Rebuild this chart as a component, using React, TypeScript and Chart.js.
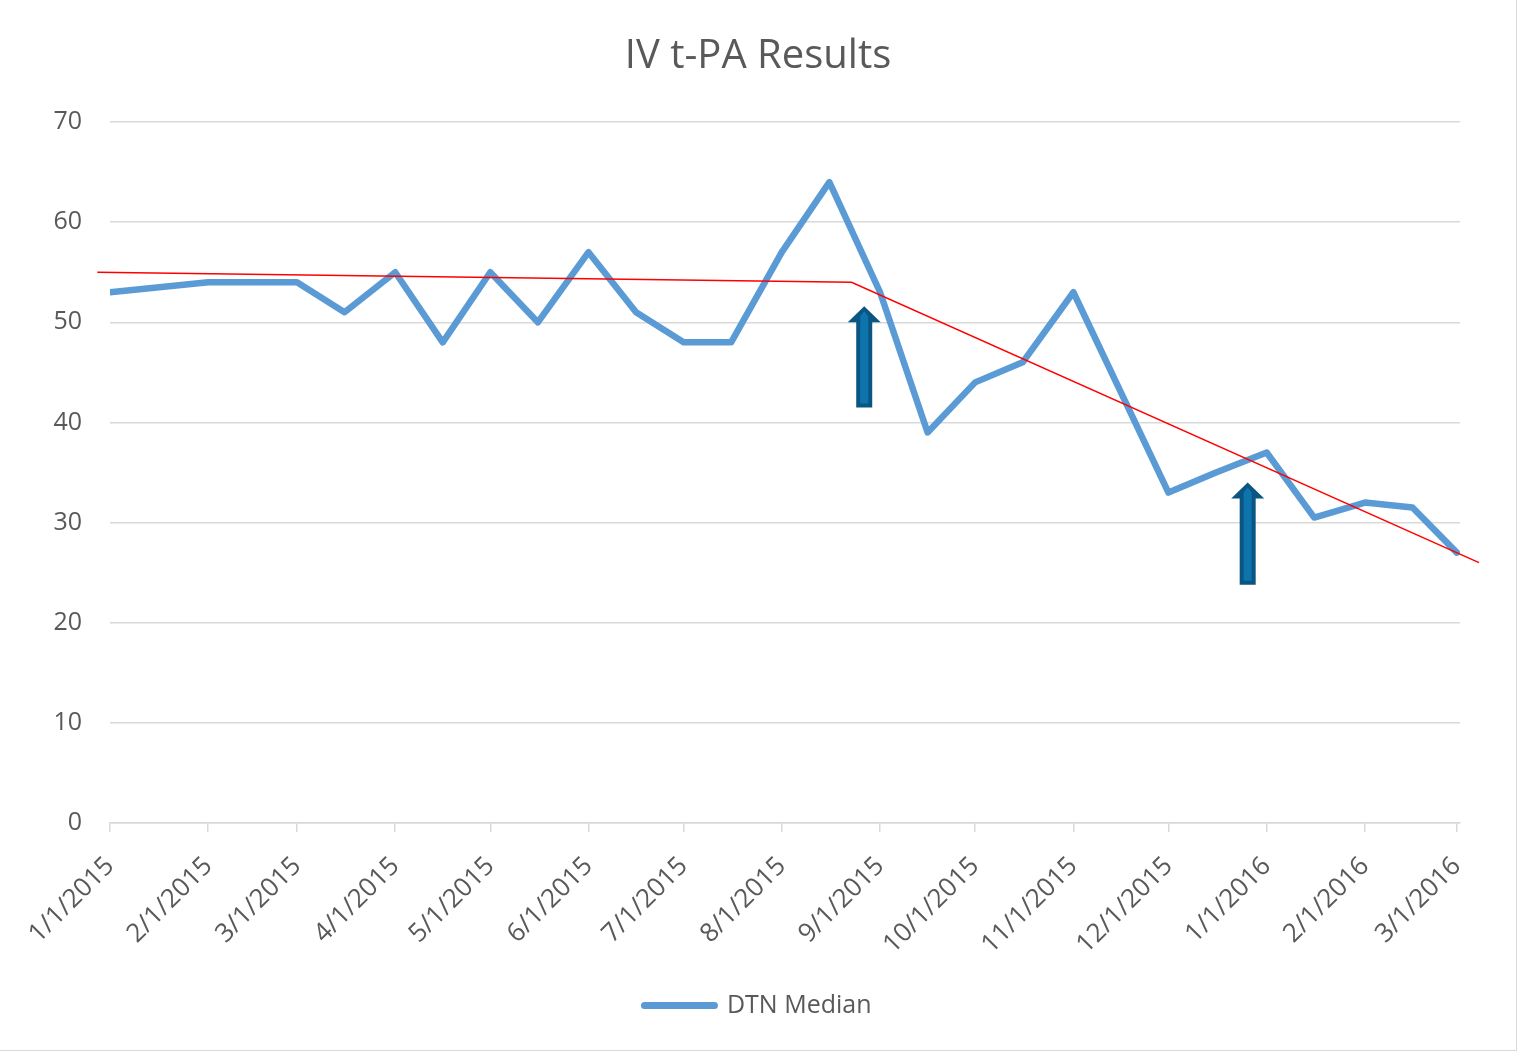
import React, { useEffect, useRef } from "react";
import { Chart, registerables } from "chart.js";

Chart.register(...registerables);

// ---- data ----
const chartTitle = "IV t-PA Results";
const seriesLabel = "DTN Median";
const dates = [
  "2015-01-01", "2015-02-01", "2015-03-01", "2015-03-16", "2015-04-01", "2015-04-16",
  "2015-05-01", "2015-05-16", "2015-06-01", "2015-06-16", "2015-07-01", "2015-07-16",
  "2015-08-01", "2015-08-16", "2015-09-01", "2015-09-16", "2015-10-01", "2015-10-16",
  "2015-11-01", "2015-11-16", "2015-12-01", "2015-12-16", "2016-01-01", "2016-01-16",
  "2016-02-01", "2016-02-16", "2016-03-01",
];
const dtnMedian = [
  53, 54, 54, 51, 55, 48,
  55, 50, 57, 51, 48, 48,
  57, 64, 53, 39, 44, 46,
  53, 43, 33, 35, 37, 30.5,
  32, 31.5, 27,
];
const tickLabels = [
  "1/1/2015", "2/1/2015", "3/1/2015", "4/1/2015", "5/1/2015", "6/1/2015", "7/1/2015",
  "8/1/2015", "9/1/2015", "10/1/2015", "11/1/2015", "12/1/2015", "1/1/2016", "2/1/2016", "3/1/2016",
];
const axisEndDate = "2016-03-02";
const yTicks = [0, 10, 20, 30, 40, 50, 60, 70];

// hand-drawn trend line (red) and arrows
const trendDates = ["2014-12-28", "2015-08-23", "2016-03-08"];
const trendValues = [55, 54, 26];
const arrowDates = ["2015-08-27", "2015-12-26"];
const arrowTips = [51.6, 34.0];
const arrowBases = [41.5, 23.8];

// ---- helpers ----
const BASE = Date.UTC(2015, 0, 1);
const dayOfIso = (s: string) => {
  const [y, m, d] = s.split("-").map(Number);
  return (Date.UTC(y, m - 1, d) - BASE) / 86400000;
};
const dayOfUs = (s: string) => {
  const [m, d, y] = s.split("/").map(Number);
  return (Date.UTC(y, m - 1, d) - BASE) / 86400000;
};
const tickDays = tickLabels.map(dayOfUs);

const FONT = "'Open Sans', 'Noto Sans', sans-serif";
const TEXT = "#595959";
const GRID = "#d9d9d9";

const arrowPlugin = {
  id: "arrows",
  afterDatasetsDraw(chart: any) {
    const { ctx, scales } = chart;
    const x = scales.x;
    const y = scales.y;
    arrowDates.forEach((d, i) => {
      const cx = x.getPixelForValue(dayOfIso(d));
      const tipY = y.getPixelForValue(arrowTips[i]);
      const baseY = y.getPixelForValue(arrowBases[i]);
      const headH = 16;
      const headW = 33;
      const shaftW = 16;
      ctx.save();
      ctx.beginPath();
      ctx.moveTo(cx, tipY);
      ctx.lineTo(cx + headW / 2, tipY + headH);
      ctx.lineTo(cx + shaftW / 2, tipY + headH);
      ctx.lineTo(cx + shaftW / 2, baseY);
      ctx.lineTo(cx - shaftW / 2, baseY);
      ctx.lineTo(cx - shaftW / 2, tipY + headH);
      ctx.lineTo(cx - headW / 2, tipY + headH);
      ctx.closePath();
      ctx.fillStyle = "#0b5583";
      ctx.fill();
      // lighter inner stripe
      ctx.beginPath();
      ctx.moveTo(cx, tipY + 5);
      ctx.lineTo(cx + 4, tipY + 10);
      ctx.lineTo(cx + 4, baseY - 4);
      ctx.lineTo(cx - 4, baseY - 4);
      ctx.lineTo(cx - 4, tipY + 10);
      ctx.closePath();
      ctx.fillStyle = "#0e74ae";
      ctx.fill();
      ctx.restore();
    });
  },
};

export default function App() {
  const canvasRef = useRef<HTMLCanvasElement | null>(null);

  useEffect(() => {
    document.body.style.margin = "0";
    const canvas = canvasRef.current;
    if (!canvas) return;

    const mainData = dates.map((d, i) => ({ x: dayOfIso(d), y: dtnMedian[i] }));
    const trendData = trendDates.map((d, i) => ({ x: dayOfIso(d), y: trendValues[i] }));

    const chart = new Chart(canvas, {
      type: "line",
      data: {
        datasets: [
          {
            label: "trend",
            data: trendData,
            borderColor: "#ff0000",
            borderWidth: 1.5,
            pointRadius: 0,
            tension: 0,
            clip: false,
            order: 0,
          } as any,
          {
            label: seriesLabel,
            data: mainData,
            borderColor: "#5b9bd5",
            backgroundColor: "#5b9bd5",
            borderWidth: 6.5,
            pointRadius: 0,
            tension: 0,
            borderJoinStyle: "round",
            borderCapStyle: "round",
            order: 1,
          } as any,
        ],
      },
      options: {
        animation: false,
        responsive: true,
        maintainAspectRatio: false,
        layout: { padding: { left: 0, right: 0, top: 0, bottom: 22 } },
        plugins: {
          tooltip: { enabled: false },
          title: {
            display: true,
            text: chartTitle,
            color: TEXT,
            font: { family: FONT, size: 40, weight: "normal" },
            padding: { top: 33, bottom: 41 },
          },
          legend: {
            display: true,
            position: "bottom",
            labels: {
              color: TEXT,
              font: { family: FONT, size: 25 },
              padding: 10,
              usePointStyle: true,
              pointStyleWidth: 70,
              generateLabels: () => [
                {
                  text: seriesLabel,
                  fillStyle: "#5b9bd5",
                  strokeStyle: "#5b9bd5",
                  lineWidth: 7,
                  lineCap: "round",
                  pointStyle: "line",
                  hidden: false,
                  datasetIndex: 1,
                  fontColor: TEXT,
                } as any,
              ],
            },
          },
        },
        scales: {
          x: {
            type: "linear",
            min: 0,
            max: dayOfIso(axisEndDate),
            afterBuildTicks: (s: any) => {
              s.ticks = tickDays.map((v) => ({ value: v }));
            },
            afterFit: (s: any) => {
              s.height = 160;
            },
            ticks: {
              autoSkip: false,
              minRotation: 45,
              maxRotation: 45,
              padding: 19,
              labelOffset: 0,
              color: TEXT,
              font: { family: FONT, size: 26 },
              callback: (_v: any, i: number) => tickLabels[i],
            },
            grid: {
              display: true,
              drawOnChartArea: false,
              drawTicks: true,
              tickLength: 9,
              color: GRID,
              lineWidth: 1.5,
            },
            border: { display: true, color: GRID, width: 1.5 },
          },
          y: {
            type: "linear",
            min: 0,
            max: 70,
            afterBuildTicks: (s: any) => {
              s.ticks = yTicks.map((v) => ({ value: v }));
            },
            afterFit: (s: any) => {
              s.width = 110;
            },
            ticks: {
              padding: 28,
              color: TEXT,
              font: { family: FONT, size: 25 },
            },
            grid: { color: GRID, lineWidth: 1.5, drawTicks: false },
            border: { display: false },
          },
          yRight: {
            type: "linear",
            position: "right",
            display: true,
            ticks: { display: false },
            grid: { display: false, drawTicks: false },
            border: { display: false },
            afterFit: (s: any) => {
              s.width = 56;
            },
          },
        },
      },
      plugins: [arrowPlugin],
    });

    return () => chart.destroy();
  }, []);

  return (
    <div
      style={{
        position: "relative",
        width: 1517,
        height: 1051,
        boxSizing: "border-box",
        borderRight: "1px solid #d9d9d9",
        borderBottom: "1px solid #d9d9d9",
        background: "#ffffff",
      }}
    >
      <canvas ref={canvasRef} />
    </div>
  );
}
